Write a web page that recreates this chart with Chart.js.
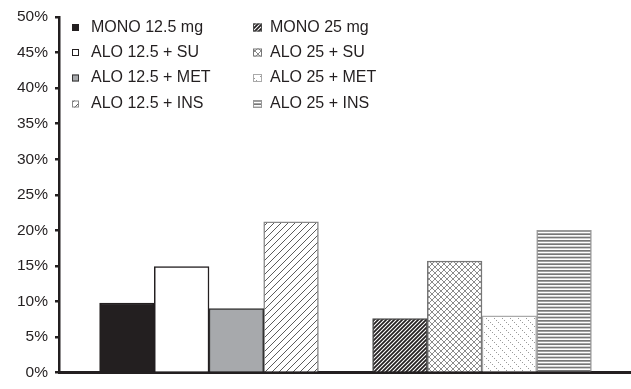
<!DOCTYPE html>
<html><head><meta charset="utf-8">
<script src="https://cdn.jsdelivr.net/npm/chart.js@4.4.1/dist/chart.umd.min.js"></script>
<style>html,body{margin:0;padding:0;background:#fff;} #wrap{width:631px;height:389px;}</style>
</head><body><div id="wrap"><canvas id="c" width="631" height="389"></canvas></div>
<script>
// ---- data ----
const categories = ['12.5 mg', '25 mg'];
const seriesNames = ['MONO', 'ALO + SU', 'ALO + MET', 'ALO + INS'];
const legendLabels12 = ['MONO 12.5 mg', 'ALO 12.5 + SU', 'ALO 12.5 + MET', 'ALO 12.5 + INS'];
const legendLabels25 = ['MONO 25 mg', 'ALO 25 + SU', 'ALO 25 + MET', 'ALO 25 + INS'];
const monoValues = [9.8, 7.6];
const suValues = [14.9, 15.7];
const metValues = [9.0, 8.0];
const insValues = [21.2, 20.0];
const yTickStep = 5;
const yMax = 50;

// ---- patterns ----
const canvas = document.getElementById('c');
const mainCtx = canvas.getContext('2d');
function makePattern(w, h, draw) {
  const t = document.createElement('canvas');
  t.width = w; t.height = h;
  const x = t.getContext('2d');
  draw(x, w, h);
  return mainCtx.createPattern(t, 'repeat');
}
function slash(x, p) {
  x.beginPath();
  x.moveTo(0, p); x.lineTo(p, 0);
  x.moveTo(-1, 1); x.lineTo(1, -1);
  x.moveTo(p - 1, p + 1); x.lineTo(p + 1, p - 1);
  x.stroke();
}
function backslash(x, p) {
  x.beginPath();
  x.moveTo(0, 0); x.lineTo(p, p);
  x.moveTo(-1, p - 1); x.lineTo(1, p + 1);
  x.moveTo(p - 1, -1); x.lineTo(p + 1, 1);
  x.stroke();
}
const pMono25 = makePattern(4, 4, (x, w, h) => {
  x.fillStyle = '#231f20'; x.fillRect(0, 0, w, h);
  x.strokeStyle = '#ffffff'; x.lineWidth = 1.1; slash(x, 4);
});
const pIns12 = makePattern(7, 7, (x, w, h) => {
  x.fillStyle = '#ffffff'; x.fillRect(0, 0, w, h);
  x.strokeStyle = '#4a4a4a'; x.lineWidth = 0.9; slash(x, 7);
});
const pSu25 = makePattern(6, 6, (x, w, h) => {
  x.fillStyle = '#ffffff'; x.fillRect(0, 0, w, h);
  x.strokeStyle = '#6d6d6d'; x.lineWidth = 0.8; slash(x, 6); backslash(x, 6);
});
const pMet25 = makePattern(8, 8, (x, w, h) => {
  x.fillStyle = '#ffffff'; x.fillRect(0, 0, w, h);
  x.fillStyle = '#9a9a9a';
  for (let i = 0; i < 8; i += 2) x.fillRect(i, i, 1, 1);
});
const pIns25 = makePattern(10, 10, (x, w, h) => {
  x.fillStyle = '#ffffff'; x.fillRect(0, 0, w, h);
  x.fillStyle = '#777777';
  x.fillRect(0, 0, w, 1.7); x.fillRect(0, 3.33, w, 1.7); x.fillRect(0, 6.67, w, 1.7);
});

const toPoints = vals => vals.map((v, i) => ({ x: i, y: v }));

const datasets = [
  { label: seriesNames[0], data: toPoints(monoValues), backgroundColor: ['#231f20', pMono25], borderColor: ['#231f20', '#4a4a4a'] },
  { label: seriesNames[1], data: toPoints(suValues), backgroundColor: ['#ffffff', pSu25], borderColor: ['#231f20', '#777777'] },
  { label: seriesNames[2], data: toPoints(metValues), backgroundColor: ['#a7a9ac', pMet25], borderColor: ['#333333', '#aaaaaa'] },
  { label: seriesNames[3], data: toPoints(insValues), backgroundColor: [pIns12, pIns25], borderColor: ['#888888', '#999999'] }
];
datasets.forEach(d => { d.borderWidth = 1.5; d.barThickness = 54.7; d.borderSkipped = 'start'; });

const legendPlugin = {
  id: 'customLegend',
  afterDraw(chart) {
    const ctx = chart.ctx;
    ctx.save();
    ctx.font = '16px "Liberation Sans", Arial, sans-serif';
    ctx.textBaseline = 'middle';
    const rows = [27.5, 52.5, 78, 104];
    const cols = [
      { bx: 72, tx: 91, bw: 7, bh: 7, labels: legendLabels12 },
      { bx: 253, tx: 270, bw: 9, bh: 8, labels: legendLabels25 }
    ];
    chart.data.datasets.forEach((ds, k) => {
      cols.forEach((c, i) => {
        const y = rows[k];
        ctx.fillStyle = ds.backgroundColor[i];
        ctx.fillRect(c.bx, y - c.bh / 2, c.bw, c.bh);
        ctx.strokeStyle = ds.borderColor[i];
        ctx.lineWidth = 1;
        ctx.strokeRect(c.bx + 0.5, y - c.bh / 2 + 0.5, c.bw - 1, c.bh - 1);
        ctx.fillStyle = '#231f20';
        ctx.fillText(c.labels[k], c.tx, y);
      });
    });
    ctx.restore();
  }
};

new Chart(canvas, {
  type: 'bar',
  data: { labels: categories, datasets },
  options: {
    responsive: false,
    animation: false,
    layout: { padding: { top: 17, right: 0, bottom: 0, left: 0 } },
    plugins: { legend: { display: false }, tooltip: { enabled: false } },
    scales: {
      x: {
        type: 'linear',
        offset: false,
        min: -0.5495,
        max: 1.5458,
        ticks: { display: false },
        grid: { display: false, offset: false },
        border: { display: true, width: 3, color: '#231f20' },
        afterFit(s) { s.height = 5; }
      },
      y: {
        min: 0,
        max: yMax,
        ticks: {
          stepSize: yTickStep,
          padding: 7,
          color: '#231f20',
          font: { family: '"Liberation Sans", Arial, sans-serif', size: 15.5 },
          callback: v => v + '%'
        },
        grid: { display: true, drawOnChartArea: false, drawTicks: true, tickLength: 4, lineWidth: 2.5, tickWidth: 2.5, tickColor: '#231f20', color: '#231f20' },
        border: { display: true, width: 2.5, color: '#231f20' },
        afterFit(s) { s.width = 59; }
      }
    }
  },
  plugins: [legendPlugin]
});
</script>
</body></html>
